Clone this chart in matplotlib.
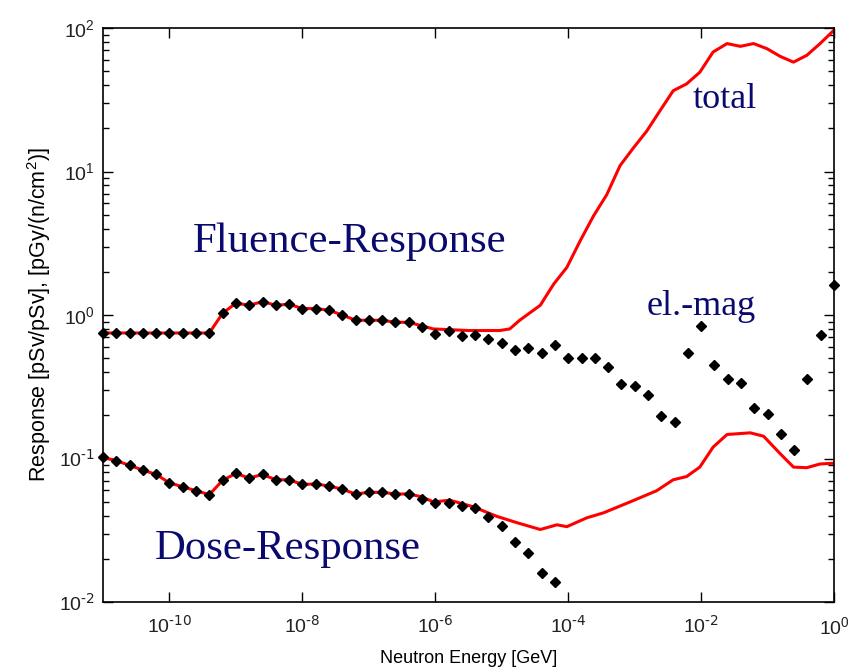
import numpy as np
import matplotlib
matplotlib.use("Agg")
from matplotlib import pyplot as plt
from matplotlib.ticker import LogLocator, FixedLocator, NullLocator

plt.rcParams['font.family'] = ['Liberation Sans', 'DejaVu Sans']
plt.rcParams['mathtext.default'] = 'regular'
plt.rcParams['axes.unicode_minus'] = False

# log10 of neutron energy [GeV] for the marker points (black diamonds)
fluence_em_loge = [-11.0, -10.8, -10.6, -10.4, -10.2, -10.0, -9.8, -9.6, -9.4, -9.2,
                   -9.0, -8.8, -8.6, -8.4, -8.2, -8.0, -7.8, -7.6, -7.4, -7.2,
                   -7.0, -6.8, -6.6, -6.4, -6.2, -6.0, -5.8, -5.6, -5.4, -5.2,
                   -5.0, -4.8, -4.6, -4.4, -4.2, -4.0, -3.8, -3.6, -3.4, -3.2,
                   -3.0, -2.8, -2.6, -2.4, -2.2, -2.0, -1.8, -1.6, -1.4, -1.2,
                   -1.0, -0.8, -0.6, -0.4, -0.2, 0.0]
fluence_em = [0.75, 0.75, 0.75, 0.75, 0.75, 0.75, 0.75, 0.75, 0.75, 1.03,
              1.21, 1.17, 1.24, 1.17, 1.19, 1.11, 1.11, 1.08, 1.00, 0.92,
              0.92, 0.92, 0.89, 0.89, 0.82, 0.74, 0.78, 0.72, 0.73, 0.68,
              0.64, 0.575, 0.59, 0.545, 0.62, 0.50, 0.50, 0.50, 0.436, 0.329,
              0.318, 0.276, 0.197, 0.181, 0.545, 0.843, 0.449, 0.356, 0.337, 0.226,
              0.203, 0.148, 0.114, 0.356, 0.724, 1.61]

dose_em_loge = [-11.0, -10.8, -10.6, -10.4, -10.2, -10.0, -9.8, -9.6, -9.4, -9.2,
                -9.0, -8.8, -8.6, -8.4, -8.2, -8.0, -7.8, -7.6, -7.4, -7.2,
                -7.0, -6.8, -6.6, -6.4, -6.2, -6.0, -5.8, -5.6, -5.4, -5.2,
                -5.0, -4.8, -4.6, -4.4, -4.2]
dose_em = [0.102, 0.0966, 0.0895, 0.083, 0.0774, 0.0676, 0.0635, 0.0596, 0.056, 0.0705,
           0.0787, 0.073, 0.0774, 0.0711, 0.0711, 0.0659, 0.0665, 0.0643, 0.0611, 0.0566,
           0.0581, 0.0581, 0.0566, 0.0566, 0.0525, 0.0493, 0.0493, 0.0469, 0.045, 0.039,
           0.0339, 0.026, 0.0219, 0.016, 0.0137]

# total response curves (red)
fluence_tot_loge = [-11.0, -9.4, -9.2, -9.0, -8.8, -8.6, -8.4, -8.2, -8.0, -7.8,
                    -7.6, -7.4, -7.2, -7.0, -6.8, -6.6, -6.4, -6.2, -6.03, -5.5,
                    -5.03, -4.88, -4.73, -4.42, -4.22, -4.02, -3.82, -3.62, -3.42, -3.22,
                    -3.02, -2.82, -2.62, -2.42, -2.22, -2.02, -1.82, -1.61, -1.41, -1.21,
                    -1.01, -0.81, -0.61, -0.41, -0.21, 0.0]
fluence_tot = [0.75, 0.75, 1.03, 1.21, 1.17, 1.24, 1.17, 1.19, 1.11, 1.11,
               1.08, 1.00, 0.92, 0.92, 0.92, 0.89, 0.89, 0.84, 0.80, 0.78,
               0.78, 0.80, 0.92, 1.17, 1.64, 2.15, 3.29, 4.90, 6.90, 11.0,
               14.6, 19.1, 26.5, 36.6, 40.8, 49.2, 68.1, 78.0, 74.6, 78.0,
               71.9, 63.5, 57.9, 64.6, 78.0, 96.8]

dose_tot_loge = [-11.0, -10.8, -10.6, -10.4, -10.2, -10.0, -9.8, -9.6, -9.4, -9.2,
                 -9.0, -8.8, -8.6, -8.4, -8.2, -8.0, -7.8, -7.6, -7.4, -7.2,
                 -7.0, -6.8, -6.6, -6.4, -6.2, -6.03, -5.78, -5.43, -5.08, -4.78,
                 -4.42, -4.17, -4.02, -3.72, -3.47, -3.07, -2.67, -2.42, -2.22, -2.02,
                 -1.82, -1.61, -1.26, -1.06, -0.81, -0.61, -0.41, -0.21, 0.0]
dose_tot = [0.102, 0.0966, 0.0895, 0.083, 0.0774, 0.0676, 0.0635, 0.0596, 0.056, 0.0705,
            0.0787, 0.073, 0.0774, 0.0711, 0.0711, 0.0659, 0.0665, 0.0643, 0.0611, 0.0566,
            0.0581, 0.0581, 0.0566, 0.0566, 0.054, 0.0498, 0.0512, 0.0461, 0.0396, 0.0358,
            0.032, 0.0345, 0.0335, 0.0386, 0.0418, 0.0498, 0.0596, 0.0711, 0.0748, 0.0871,
            0.12, 0.147, 0.151, 0.143, 0.108, 0.0871, 0.0863, 0.0916, 0.0927]

x_ticks = [1e-10, 1e-8, 1e-6, 1e-4, 1e-2, 1e0]
x_ticklabels = [r'$10^{\text{-10}}$', r'$10^{\text{-8}}$', r'$10^{\text{-6}}$',
                r'$10^{\text{-4}}$', r'$10^{\text{-2}}$', r'$10^{0}$']
y_ticks = [1e-2, 1e-1, 1e0, 1e1, 1e2]
y_ticklabels = [r'$10^{\text{-2}}$', r'$10^{\text{-1}}$', r'$10^{0}$', r'$10^{1}$', r'$10^{2}$']

navy = '#0a0a6e'

fig = plt.figure(figsize=(8.6, 6.72), dpi=100)
ax = fig.add_axes([0.1198, 0.1042, 0.85, 0.854])

ax.plot(10 ** np.array(fluence_tot_loge), fluence_tot, color='#ff0000', lw=2.2)
ax.plot(10 ** np.array(dose_tot_loge), dose_tot, color='#ff0000', lw=2.2)
ax.plot(10 ** np.array(fluence_em_loge), fluence_em, 'D', color='black', ms=4.8, clip_on=False)
ax.plot(10 ** np.array(dose_em_loge), dose_em, 'D', color='black', ms=4.8, clip_on=False)

ax.set_xscale('log')
ax.set_yscale('log')
ax.set_xlim(1e-11, 1e0)
ax.set_ylim(1e-2, 1e2)

ax.xaxis.set_major_locator(FixedLocator(x_ticks))
ax.xaxis.set_minor_locator(NullLocator())
ax.set_xticklabels(x_ticklabels)
ax.yaxis.set_major_locator(FixedLocator(y_ticks))
ax.yaxis.set_minor_locator(LogLocator(base=10.0, subs=np.arange(2, 10), numticks=20))
ax.set_yticklabels(y_ticklabels)

ax.tick_params(which='both', direction='in', top=True, right=True, width=1.0,
               labelsize=14, labelcolor='#222222')
ax.tick_params(which='major', length=7)
ax.tick_params(which='minor', length=4)
ax.tick_params(axis='x', which='major', pad=10)
ax.tick_params(axis='y', which='major', pad=6)
for s in ax.spines.values():
    s.set_linewidth(1.2)

ax.set_xlabel('Neutron Energy [GeV]', fontsize=13, labelpad=9)
ax.set_ylabel('Response [pSv/pSv], [pGy/(n/cm$^2$)]', fontsize=15.5, labelpad=4)

serif = ['Liberation Serif', 'DejaVu Serif']
ax.text(0.123, 0.610, 'Fluence-Response', transform=ax.transAxes, family=serif,
        fontsize=30.8, color=navy, va='baseline')
ax.text(0.071, 0.075, 'Dose-Response', transform=ax.transAxes, family=serif,
        fontsize=30.8, color=navy, va='baseline')
ax.text(0.807, 0.861, 'total', transform=ax.transAxes, family=serif,
        fontsize=26, color=navy, va='baseline')
ax.text(0.744, 0.500, 'el.-mag', transform=ax.transAxes, family=serif,
        fontsize=26, color=navy, va='baseline')

fig.savefig('out.png', dpi=100)
